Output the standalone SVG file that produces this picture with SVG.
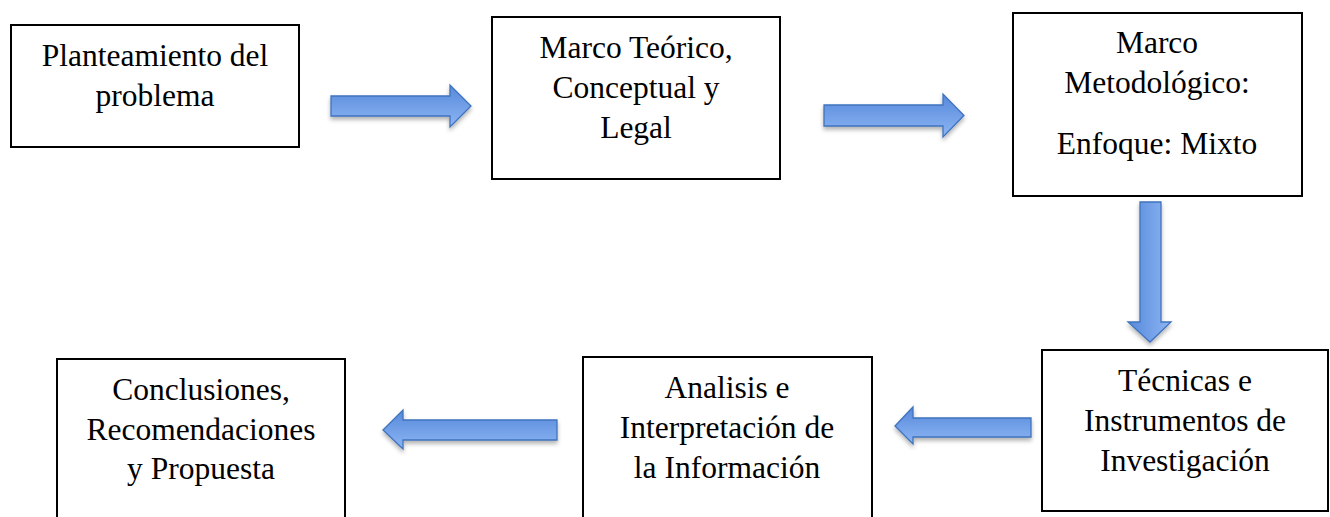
<svg xmlns="http://www.w3.org/2000/svg" width="1330" height="517" viewBox="0 0 1330 517">
<style>
.box{fill:#fff;stroke:#000;stroke-width:2}
.t{font-family:"Liberation Serif","Times New Roman",serif;font-size:31.5px;fill:#000;text-anchor:middle}
.arr{stroke:#3f73bd;stroke-width:1.3;stroke-linejoin:miter}
.h{fill:url(#gh)}
.v{fill:url(#gv)}
</style>
<defs>
<linearGradient id="gh" x1="0" y1="0" x2="0" y2="1">
<stop offset="0" stop-color="#5689db"/>
<stop offset="1" stop-color="#8db5f3"/>
</linearGradient>
<linearGradient id="gv" x1="0" y1="0" x2="1" y2="0">
<stop offset="0" stop-color="#5689db"/>
<stop offset="1" stop-color="#8db5f3"/>
</linearGradient>
<filter id="sh" x="-20%" y="-40%" width="140%" height="180%">
<feDropShadow dx="0" dy="3" stdDeviation="2" flood-color="#000" flood-opacity="0.3"/>
</filter>
</defs>
<g id="n1"><rect class="box" x="11" y="25" width="288" height="122"/>
<text class="t" x="155" y="66">Planteamiento del</text><text class="t" x="155" y="106">problema</text></g>
<g id="n2"><rect class="box" x="492" y="17" width="288" height="162"/>
<text class="t" x="636" y="58">Marco Teórico,</text><text class="t" x="636" y="98">Conceptual y</text><text class="t" x="636" y="138">Legal</text></g>
<g id="n3"><rect class="box" x="1013" y="13" width="289" height="183"/>
<text class="t" x="1157" y="53">Marco</text><text class="t" x="1157" y="93">Metodológico:</text><text class="t" x="1157" y="154">Enfoque: Mixto</text></g>
<g id="n4"><rect class="box" x="1042" y="350" width="286" height="161"/>
<text class="t" x="1185" y="391">Técnicas e</text><text class="t" x="1185" y="431">Instrumentos de</text><text class="t" x="1185" y="471">Investigación</text></g>
<g id="n5"><rect class="box" x="583" y="357" width="289" height="170"/>
<text class="t" x="727" y="398">Analisis e</text><text class="t" x="727" y="438">Interpretación de</text><text class="t" x="727" y="478">la Información</text></g>
<g id="n6"><rect class="box" x="57" y="359" width="288" height="170"/>
<text class="t" x="201" y="400">Conclusiones,</text><text class="t" x="201" y="440">Recomendaciones</text><text class="t" x="201" y="479">y Propuesta</text></g>
<g id="connectors" filter="url(#sh)">
<path class="arr h" d="M331,96 H450 V85 L471,106 L450,127 V116 H331 Z"/>
<path class="arr h" d="M824,105 H943 V94 L964,115.5 L943,137 V126 H824 Z"/>
<path class="arr v" d="M1140,202 H1161 V322 H1171 L1150,342 L1128,322 H1140 Z"/>
<path class="arr h" d="M1031,418 H913 V407 L895,426 L913,444 V437 H1031 Z"/>
<path class="arr h" d="M557,420 H403 V410 L383,430 L403,449 V440 H557 Z"/>
</g>
</svg>
